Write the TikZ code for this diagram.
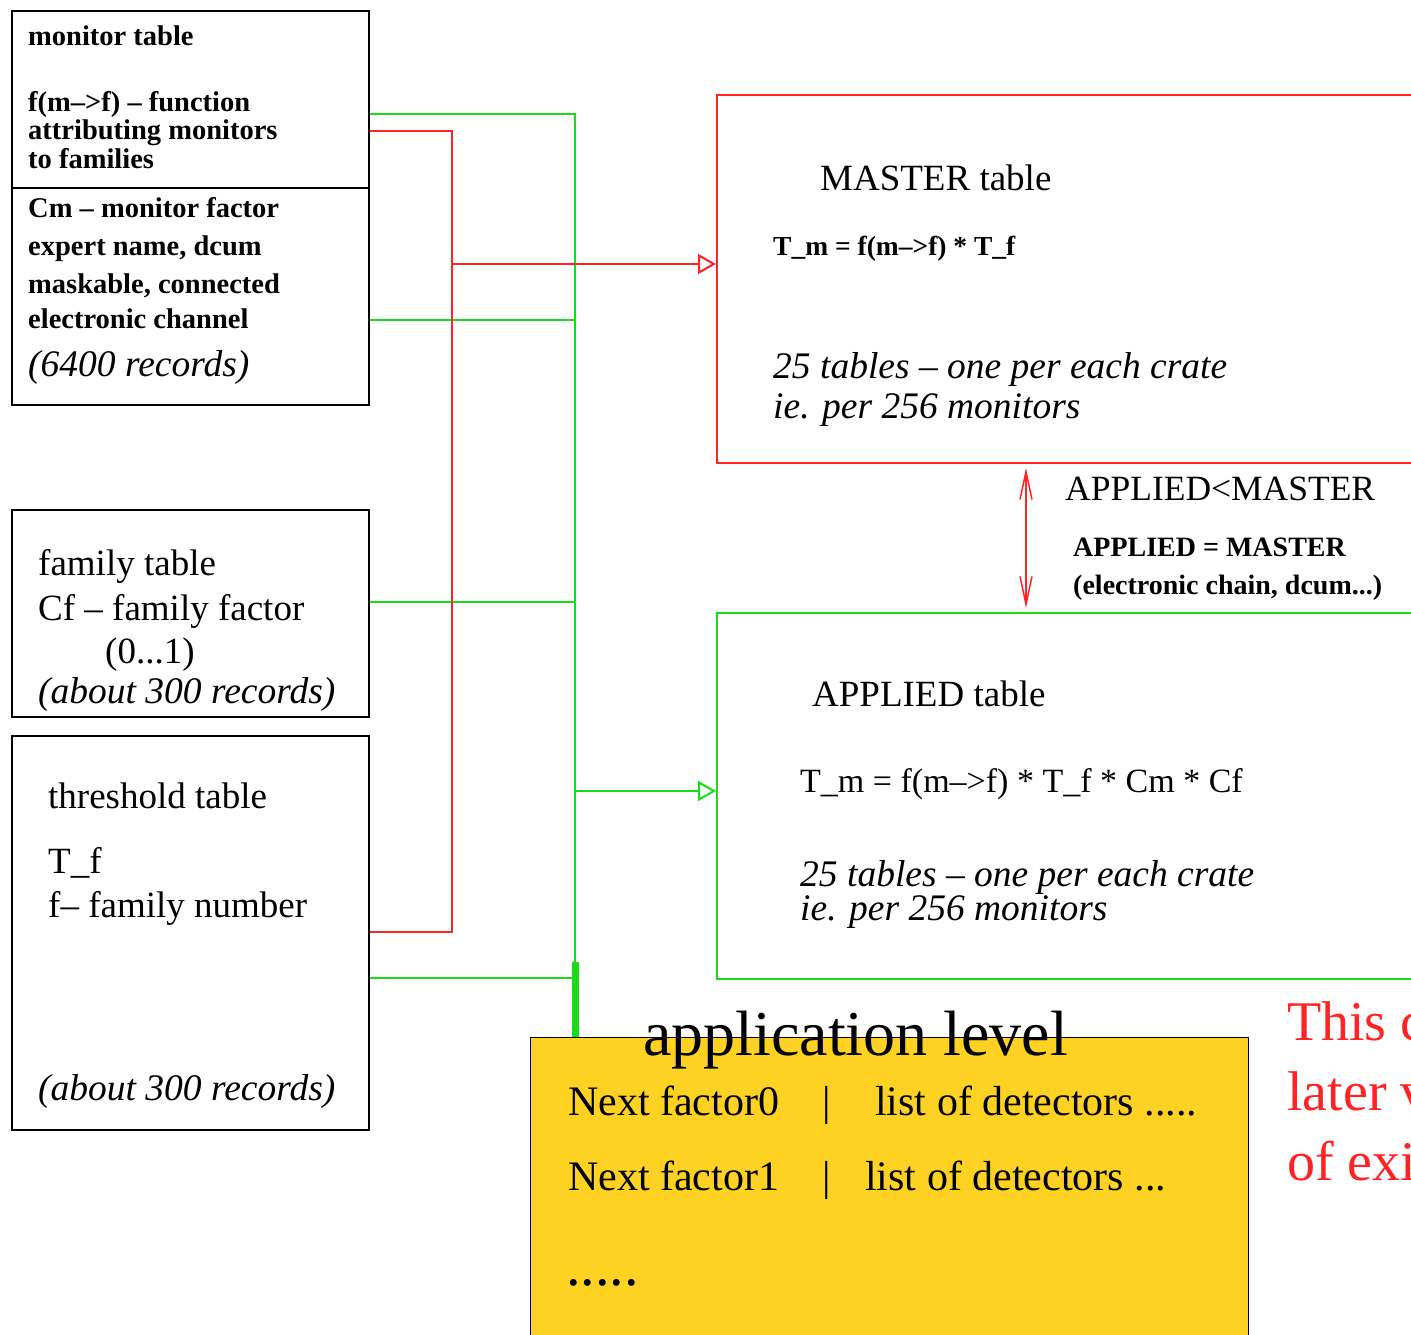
\documentclass[tikz,border=0pt]{standalone}
\usepackage{fontspec}
\setmainfont{Liberation Serif}
\usetikzlibrary{arrows.meta,positioning}

\definecolor{grn}{RGB}{25,220,25}
\definecolor{rd}{RGB}{255,35,35}
\definecolor{yel}{RGB}{254,210,34}

\begin{document}
\begin{tikzpicture}[x=1pt,y=-1pt,
	tbl/.style={draw,line width=1.6pt,inner sep=0pt,anchor=north west},
	gline/.style={grn,line width=2pt},
	rline/.style={rd,line width=2pt},
	txt/.style={anchor=base west,inner sep=0pt},
	bfsmall/.style={txt,font=\fontsize{28.5}{28}\selectfont\bfseries},
	rmtext/.style={txt,font=\fontsize{37}{43}\selectfont},
	ittext/.style={txt,font=\fontsize{37.5}{40}\selectfont\itshape},
	yeltext/.style={txt,font=\fontsize{42}{42}\selectfont},
	openhead/.style={-{Triangle[open,length=18pt,width=20pt,line width=2pt]}}]
	\useasboundingbox (0,0) rectangle (1411,1335);
	\clip (0,0) rectangle (1411,1335);

	% left tables
	\node[tbl,minimum width=357pt,minimum height=394pt] (mon) at (11,10) {};
	\node[tbl,minimum width=357pt,minimum height=207pt] (fam) at (11,509) {};
	\node[tbl,minimum width=357pt,minimum height=394pt] (thr) at (11,735) {};
	\coordinate (div) at (0,188);
	\draw[line width=1.6pt] (mon.west |- div) -- (mon.east |- div);

	\node[bfsmall] (montitle) at (28,46) {monitor table};
	\foreach \t/\y [count=\i] in {{f(m–>f) – function}/112,{attributing monitors}/140,{to families}/168}
		\node[bfsmall] (monfun\i) at (28,\y) {\t};
	\foreach \t/\y [count=\i] in {{Cm – monitor factor}/217,{expert name, dcum}/255,{maskable, connected}/293,{electronic channel}/328}
		\node[bfsmall] (monfac\i) at (28,\y) {\t};
	\node[ittext] (monrec) at (28,376) {(6400 records)};

	\node[rmtext] (famtitle) at (38,575) {family table};
	\node[rmtext] (famfac) at (38,620) {Cf – family factor};
	\node[rmtext] (famrange) at (105,663) {(0...1)};
	\node[ittext] (famrec) at (38,703) {(about 300 records)};

	\node[rmtext] (thrtitle) at (48,808) {threshold table};
	\node[rmtext] (thrtf) at (48,873) {T\_f};
	\node[rmtext] (thrnum) at (48,917) {f– family number};
	\node[ittext] (thrrec) at (38,1100) {(about 300 records)};

	% right tables
	\node[tbl,draw=rd,line width=2pt,minimum width=800pt,minimum height=368pt] (master) at (716,94) {};
	\node[tbl,draw=grn,line width=2pt,minimum width=800pt,minimum height=366pt] (applied) at (716,612) {};

	\node[rmtext] (mastitle) at (820,190) {MASTER table};
	\node[bfsmall,font=\fontsize{27.5}{28}\selectfont\bfseries] (masform) at (773,255) {T\_m = f(m–>f) * T\_f};
	\node[ittext] (masnote1) at (773,378) {25 tables – one per each crate};
	\node[ittext] (masnote2) at (773,418) {ie. per 256 monitors};

	\node[rmtext] (apptitle) at (812,706) {APPLIED table};
	\node[rmtext,font=\fontsize{34}{40}\selectfont] (appform) at (800,792) {T\_m = f(m–>f) * T\_f * Cm * Cf};
	\node[ittext] (appnote1) at (800,886) {25 tables – one per each crate};
	\node[ittext] (appnote2) at (800,920) {ie. per 256 monitors};

	\node[rmtext,font=\fontsize{35.5}{40}\selectfont] (synclabel) at (1065,500) {APPLIED<MASTER};
	\node[bfsmall,font=\fontsize{28}{38}\selectfont\bfseries] (syncnote1) at (1073,556) {APPLIED = MASTER};
	\node[bfsmall,font=\fontsize{28}{38}\selectfont\bfseries] (syncnote2) at (1073,594) {(electronic chain, dcum...)};

	% application level
	\node[tbl,fill=yel,line width=1pt,minimum width=718pt,minimum height=360pt] (lvl) at (530,1037) {};
	\node[txt,font=\fontsize{64}{64}\selectfont] (lvltitle) at (643,1055) {application level};
	\node[yeltext] (nf0) at (568,1115) {Next factor0};
	\node[yeltext] (bar0) at (822,1115) {|};
	\node[yeltext] (det0) at (875,1115) {list of detectors .....};
	\node[yeltext] (nf1) at (568,1190) {Next factor1};
	\node[yeltext] (bar1) at (822,1190) {|};
	\node[yeltext] (det1) at (865,1190) {list of detectors ...};
	\node[yeltext,font=\fontsize{58}{58}\selectfont] (more) at (566,1285) {.....};

	\foreach \t/\y [count=\i] in {This c/1040,later v/1110,of exi/1180}
		\node[txt,text=rd,font=\fontsize{56}{71}\selectfont] (remark\i) at (1287,\y) {\t};

	% green connections
	\coordinate (gt) at (575,114);
	\coordinate (gm) at (575,320);
	\coordinate (gf) at (575,602);
	\coordinate (ga) at (575,791);
	\coordinate (gth) at (575,978);
	\coordinate (gb) at (575,962);
	\draw[gline] (mon.east |- gt) -- (gt) -- (gb);
	\draw[gline] (mon.east |- gm) -- (gm);
	\draw[gline] (fam.east |- gf) -- (gf);
	\draw[gline] (thr.east |- gth) -- (gth);
	\draw[gline,openhead] (ga) -- (ga -| applied.west);
	\draw[grn,line width=7pt] (gb) -- (gb |- lvl.north);

	% red connections
	\coordinate (rt) at (452,131);
	\coordinate (rm) at (452,264);
	\coordinate (rb) at (452,932);
	\draw[rline] (mon.east |- rt) -- (rt) -- (rb) -- (thr.east |- rb);
	\draw[rline,openhead] (rm) -- (rm -| master.west);
	\coordinate (sync) at (1026,0);
	\draw[rline,line width=1.5pt,{Straight Barb[length=28pt,width=12pt]}-{Straight Barb[length=28pt,width=12pt]},shorten <=4pt,shorten >=4pt] (master.south -| sync) -- (applied.north -| sync);
\end{tikzpicture}
\end{document}
